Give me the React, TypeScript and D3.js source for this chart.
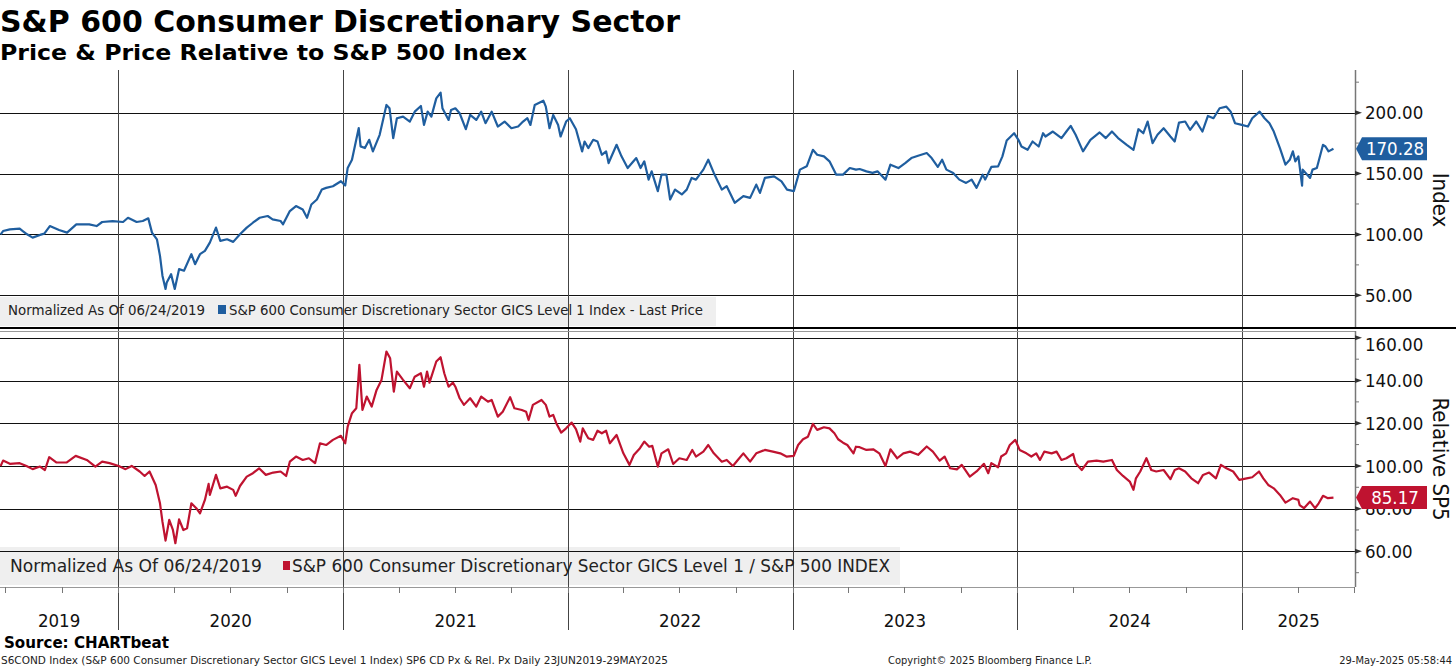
import React from "react";
import * as d3 from "d3";

type TPoint = [string, number];

// S&P 600 Consumer Discretionary, normalized to 100 on 06/24/2019
const priceSeries: TPoint[] = [
  ["2019-06-24", 100], ["2019-06-28", 102.8], ["2019-07-09", 104.2], ["2019-07-25", 104.7],
  ["2019-07-30", 102.8], ["2019-08-06", 100.1], ["2019-08-15", 97.4], ["2019-08-27", 99.6],
  ["2019-09-03", 100.7], ["2019-09-12", 106.9], ["2019-09-27", 103.6], ["2019-10-10", 101.5],
  ["2019-10-25", 108.3], ["2019-11-15", 108.3], ["2019-11-27", 106.9], ["2019-12-06", 110.2],
  ["2019-12-23", 111], ["2020-01-09", 110.2], ["2020-01-17", 113.7], ["2020-01-31", 110.2],
  ["2020-02-10", 111], ["2020-02-19", 113.2], ["2020-02-25", 101.5], ["2020-03-04", 96],
  ["2020-03-09", 82.4], ["2020-03-13", 66.1], ["2020-03-18", 55.2], ["2020-03-20", 60.6],
  ["2020-03-27", 67.4], ["2020-04-02", 55.2], ["2020-04-09", 71.5], ["2020-04-17", 70.2],
  ["2020-04-29", 83.8], ["2020-05-05", 75.6], ["2020-05-13", 83.8], ["2020-05-21", 86.5],
  ["2020-05-29", 93.3], ["2020-06-08", 105.6], ["2020-06-15", 94.7], ["2020-06-26", 96],
  ["2020-07-06", 93.9], ["2020-07-17", 100.1], ["2020-07-28", 105.6], ["2020-08-07", 109.6],
  ["2020-08-18", 113.7], ["2020-08-31", 115.1], ["2020-09-08", 112.4], ["2020-09-21", 111],
  ["2020-09-25", 108.3], ["2020-10-06", 119.2], ["2020-10-16", 123.3], ["2020-10-27", 120.5],
  ["2020-11-03", 113.7], ["2020-11-10", 124.6], ["2020-11-19", 128.7], ["2020-11-27", 136.9],
  ["2020-12-04", 138.2], ["2020-12-15", 139.6], ["2020-12-28", 143.7], ["2021-01-04", 140.1],
  ["2021-01-08", 154.6], ["2021-01-15", 161.4], ["2021-01-26", 187.3], ["2021-01-29", 172.3],
  ["2021-02-05", 170.9], ["2021-02-12", 177.7], ["2021-02-18", 168.2], ["2021-03-01", 181.8],
  ["2021-03-12", 206.3], ["2021-03-17", 203.6], ["2021-03-23", 179], ["2021-03-29", 195.4],
  ["2021-04-08", 196.7], ["2021-04-19", 192.7], ["2021-04-27", 200.8], ["2021-05-07", 205.5],
  ["2021-05-12", 189.9], ["2021-05-18", 200.8], ["2021-05-24", 196.7], ["2021-06-01", 211.7],
  ["2021-06-08", 216.4], ["2021-06-11", 203.6], ["2021-06-21", 194], ["2021-06-25", 202.2],
  ["2021-07-02", 203.6], ["2021-07-09", 199.5], ["2021-07-19", 186.4], ["2021-07-26", 198.1],
  ["2021-08-05", 194], ["2021-08-13", 200.8], ["2021-08-20", 191.3], ["2021-08-30", 200.8],
  ["2021-09-09", 188.6], ["2021-09-20", 192.7], ["2021-10-01", 187.2], ["2021-10-12", 188.6],
  ["2021-10-20", 192.7], ["2021-10-27", 195.4], ["2021-11-01", 189.9], ["2021-11-08", 206.3],
  ["2021-11-22", 209.8], ["2021-11-26", 204.9], ["2021-12-02", 187.2], ["2021-12-08", 198.1],
  ["2021-12-16", 189.9], ["2021-12-20", 180.4], ["2021-12-29", 192.7], ["2022-01-04", 195.4],
  ["2022-01-14", 186.4], ["2022-01-24", 168.2], ["2022-01-28", 176.3], ["2022-02-03", 170.9],
  ["2022-02-11", 177.7], ["2022-02-18", 176.3], ["2022-02-25", 165.4], ["2022-03-04", 168.2],
  ["2022-03-08", 158.6], ["2022-03-21", 173.6], ["2022-03-29", 164.1], ["2022-04-08", 154.5],
  ["2022-04-22", 162.7], ["2022-04-29", 154.5], ["2022-05-05", 160], ["2022-05-12", 145],
  ["2022-05-17", 151.8], ["2022-05-27", 135.5], ["2022-06-02", 149.1], ["2022-06-10", 149.1],
  ["2022-06-16", 128.7], ["2022-06-24", 136.8], ["2022-07-05", 132.8], ["2022-07-13", 136.8],
  ["2022-07-21", 146.4], ["2022-07-28", 145], ["2022-08-09", 153.2], ["2022-08-17", 161.3],
  ["2022-08-26", 150.5], ["2022-09-08", 136.8], ["2022-09-16", 139.6], ["2022-09-29", 126],
  ["2022-10-13", 131.4], ["2022-10-24", 130], ["2022-11-03", 140.9], ["2022-11-09", 134.1],
  ["2022-11-17", 146.4], ["2022-12-02", 147.7], ["2022-12-14", 143.6], ["2022-12-23", 136.8],
  ["2023-01-03", 135.5], ["2023-01-13", 153.2], ["2023-01-24", 155.9], ["2023-02-03", 169.5],
  ["2023-02-10", 165.4], ["2023-02-21", 164.1], ["2023-03-02", 160], ["2023-03-13", 149.1],
  ["2023-03-24", 149.1], ["2023-04-04", 154.5], ["2023-04-14", 153.2], ["2023-04-20", 153.7],
  ["2023-05-01", 151.8], ["2023-05-11", 150.5], ["2023-05-19", 151.8], ["2023-06-01", 145],
  ["2023-06-09", 157.3], ["2023-06-22", 154.5], ["2023-07-03", 158.6], ["2023-07-13", 162.7],
  ["2023-07-24", 164.6], ["2023-08-07", 166.8], ["2023-08-15", 162.7], ["2023-08-25", 155.4],
  ["2023-09-01", 161.3], ["2023-09-08", 153.2], ["2023-09-19", 150.5], ["2023-09-29", 145],
  ["2023-10-10", 142.3], ["2023-10-19", 145], ["2023-10-27", 138.2], ["2023-11-06", 149.1],
  ["2023-11-10", 145], ["2023-11-20", 155.4], ["2023-12-01", 155.9], ["2023-12-08", 164.1],
  ["2023-12-15", 177.1], ["2023-12-27", 183.1], ["2024-01-03", 177.7], ["2024-01-08", 172.2],
  ["2024-01-18", 169.5], ["2024-01-26", 176.3], ["2024-02-05", 172.2], ["2024-02-12", 183.1],
  ["2024-02-16", 180.4], ["2024-02-28", 184.5], ["2024-03-13", 179.1], ["2024-03-21", 184.5],
  ["2024-03-28", 189.1], ["2024-04-05", 181.8], ["2024-04-17", 168.2], ["2024-04-29", 177.7],
  ["2024-05-14", 183.7], ["2024-05-24", 179.1], ["2024-06-03", 184.5], ["2024-06-13", 179.1],
  ["2024-06-27", 173.6], ["2024-07-08", 169.5], ["2024-07-16", 186.4], ["2024-07-24", 183.1],
  ["2024-07-31", 192.7], ["2024-08-08", 175], ["2024-08-16", 181.8], ["2024-08-26", 187.2],
  ["2024-09-06", 180.4], ["2024-09-13", 176.3], ["2024-09-20", 191.8], ["2024-09-30", 192.7],
  ["2024-10-08", 185.9], ["2024-10-18", 192.7], ["2024-10-28", 184.5], ["2024-11-06", 197.3],
  ["2024-11-15", 195.4], ["2024-11-25", 203.6], ["2024-12-06", 204.9], ["2024-12-13", 200.8],
  ["2024-12-20", 191.3], ["2024-12-31", 189.9], ["2025-01-10", 188.6], ["2025-01-17", 195.4],
  ["2025-01-29", 200.8], ["2025-02-06", 195.4], ["2025-02-14", 191.3], ["2025-02-21", 184.5],
  ["2025-03-03", 170.9], ["2025-03-12", 157.3], ["2025-03-19", 161.3], ["2025-03-24", 168.2],
  ["2025-03-28", 160], ["2025-04-02", 164.1], ["2025-04-08", 140.1], ["2025-04-09", 153.2],
  ["2025-04-21", 146.4], ["2025-04-25", 153.2], ["2025-05-02", 154.5], ["2025-05-12", 173.6],
  ["2025-05-16", 172.2], ["2025-05-21", 168.2], ["2025-05-29", 170.28],
];

// same index relative to the S&P 500, normalized to 100
const relativeSeries: TPoint[] = [
  ["2019-06-24", 100], ["2019-06-28", 102.5], ["2019-07-09", 101], ["2019-07-25", 101.3],
  ["2019-08-05", 100], ["2019-08-15", 98.5], ["2019-08-27", 99.7], ["2019-09-04", 98.1],
  ["2019-09-11", 104.1], ["2019-09-23", 101.6], ["2019-10-09", 101.6], ["2019-10-24", 104.7],
  ["2019-11-11", 102.8], ["2019-11-25", 99.7], ["2019-12-06", 102], ["2019-12-18", 101.3],
  ["2020-01-02", 100], ["2020-01-13", 98.5], ["2020-01-23", 100], ["2020-02-05", 97.4],
  ["2020-02-13", 95.3], ["2020-02-21", 97.4], ["2020-03-02", 91.1], ["2020-03-09", 82.5],
  ["2020-03-13", 73.9], ["2020-03-18", 65], ["2020-03-24", 74.7], ["2020-03-30", 70],
  ["2020-04-03", 63.8], ["2020-04-09", 75], ["2020-04-16", 70], ["2020-04-22", 70.8],
  ["2020-04-29", 82.5], ["2020-05-07", 80.2], ["2020-05-13", 77.8], ["2020-05-21", 84.1],
  ["2020-05-27", 91.6], ["2020-05-29", 86.4], ["2020-06-08", 95.8], ["2020-06-15", 89.5],
  ["2020-06-26", 90.3], ["2020-07-06", 88.8], ["2020-07-10", 86], ["2020-07-17", 90.6],
  ["2020-07-28", 95], ["2020-08-07", 96.6], ["2020-08-17", 98.9], ["2020-08-28", 95.8],
  ["2020-09-09", 96.9], ["2020-09-21", 97.4], ["2020-09-30", 95.3], ["2020-10-06", 102],
  ["2020-10-16", 104.4], ["2020-10-27", 102.8], ["2020-11-06", 103.6], ["2020-11-16", 101.3],
  ["2020-11-24", 110.6], ["2020-12-04", 109.8], ["2020-12-15", 112.2], ["2020-12-28", 114.1],
  ["2021-01-04", 110.6], ["2021-01-08", 118.4], ["2021-01-15", 124.7], ["2021-01-22", 127],
  ["2021-01-27", 147.3], ["2021-02-01", 126.2], ["2021-02-08", 132.5], ["2021-02-16", 127.8],
  ["2021-02-24", 135.6], ["2021-03-04", 140.3], ["2021-03-12", 153.6], ["2021-03-18", 150.4],
  ["2021-03-24", 134.8], ["2021-03-29", 144.2], ["2021-04-08", 140.3], ["2021-04-19", 136.4],
  ["2021-04-27", 141.8], ["2021-05-07", 143.4], ["2021-05-12", 137.1], ["2021-05-17", 144.2],
  ["2021-05-21", 139], ["2021-06-01", 148.9], ["2021-06-08", 150.9], ["2021-06-14", 143.4],
  ["2021-06-21", 137.1], ["2021-06-28", 139], ["2021-07-02", 137.1], ["2021-07-09", 131.7],
  ["2021-07-16", 128.6], ["2021-07-26", 131.7], ["2021-08-05", 127.8], ["2021-08-13", 132.5],
  ["2021-08-24", 130.1], ["2021-08-30", 130.9], ["2021-09-09", 123.1], ["2021-09-17", 125.4],
  ["2021-09-29", 132.2], ["2021-10-06", 127], ["2021-10-18", 126.2], ["2021-10-25", 125.4],
  ["2021-10-29", 121.5], ["2021-11-05", 128.6], ["2021-11-19", 130.9], ["2021-11-26", 128.6],
  ["2021-12-02", 123.1], ["2021-12-08", 123.9], ["2021-12-13", 120], ["2021-12-21", 115.6],
  ["2021-12-29", 117.6], ["2022-01-07", 120.3], ["2022-01-14", 117.2], ["2022-01-21", 111.4],
  ["2022-01-25", 117.6], ["2022-02-03", 113], ["2022-02-11", 112.2], ["2022-02-18", 116.5],
  ["2022-02-25", 115.3], ["2022-03-04", 116.5], ["2022-03-10", 110.6], ["2022-03-21", 114.5],
  ["2022-04-01", 105.9], ["2022-04-11", 100.5], ["2022-04-18", 105.1], ["2022-04-28", 108.3],
  ["2022-05-05", 111.4], ["2022-05-13", 109], ["2022-05-18", 109.4], ["2022-05-27", 99.7],
  ["2022-06-02", 105.9], ["2022-06-13", 107.8], ["2022-06-21", 100.9], ["2022-07-01", 103.6],
  ["2022-07-13", 102.8], ["2022-07-22", 107.5], ["2022-07-28", 104.4], ["2022-08-09", 106.7],
  ["2022-08-17", 109.8], ["2022-08-26", 105.9], ["2022-09-08", 102], ["2022-09-16", 102.8],
  ["2022-09-26", 100], ["2022-10-04", 102.8], ["2022-10-13", 105.9], ["2022-10-24", 102],
  ["2022-11-03", 105.9], ["2022-11-17", 107.5], ["2022-11-30", 106.7], ["2022-12-12", 105.9],
  ["2022-12-22", 104.4], ["2023-01-03", 104.7], ["2023-01-10", 109.8], ["2023-01-18", 112.5],
  ["2023-01-26", 113.7], ["2023-02-03", 119.7], ["2023-02-10", 116.9], ["2023-02-21", 118.1],
  ["2023-03-02", 117.6], ["2023-03-10", 115.3], ["2023-03-16", 112.5], ["2023-03-24", 110.9],
  ["2023-03-31", 109.8], ["2023-04-10", 105.9], ["2023-04-14", 109], ["2023-04-20", 108.8],
  ["2023-05-01", 107.5], ["2023-05-12", 107.8], ["2023-05-22", 105.9], ["2023-06-01", 100],
  ["2023-06-09", 107.8], ["2023-06-20", 103.6], ["2023-06-30", 105.9], ["2023-07-11", 106.7],
  ["2023-07-24", 105.2], ["2023-08-07", 109.1], ["2023-08-17", 106.7], ["2023-08-28", 102.5],
  ["2023-09-05", 104.4], ["2023-09-14", 98.9], ["2023-09-25", 98.4], ["2023-10-03", 100.5],
  ["2023-10-16", 95], ["2023-10-27", 97.4], ["2023-11-08", 101], ["2023-11-15", 96.6],
  ["2023-11-20", 101.3], ["2023-12-01", 99.4], ["2023-12-06", 104.4], ["2023-12-14", 105.9],
  ["2023-12-20", 109.8], ["2023-12-29", 112.2], ["2024-01-05", 107.5], ["2024-01-16", 105.9],
  ["2024-01-24", 104.4], ["2024-02-01", 105.9], ["2024-02-07", 102.8], ["2024-02-14", 106.7],
  ["2024-02-26", 105.9], ["2024-03-05", 106.7], ["2024-03-13", 102.8], ["2024-03-21", 103.6],
  ["2024-04-01", 105.6], ["2024-04-05", 101.3], ["2024-04-15", 98.1], ["2024-04-25", 102],
  ["2024-05-09", 102.5], ["2024-05-20", 102], ["2024-06-03", 102.8], ["2024-06-11", 98.1],
  ["2024-06-21", 95.3], ["2024-07-02", 92.7], ["2024-07-08", 88.8], ["2024-07-12", 94.2],
  ["2024-07-19", 97.4], ["2024-07-29", 103.6], ["2024-08-06", 98.1], ["2024-08-14", 97.4],
  ["2024-08-26", 98.1], ["2024-09-06", 93.8], ["2024-09-13", 98.1], ["2024-09-20", 98.9],
  ["2024-09-30", 97.4], ["2024-10-10", 94.2], ["2024-10-21", 91.9], ["2024-10-29", 95.8],
  ["2024-11-08", 96.9], ["2024-11-19", 94.2], ["2024-11-27", 100.5], ["2024-12-06", 98.9],
  ["2024-12-17", 97.4], ["2024-12-27", 93.5], ["2025-01-08", 94.2], ["2025-01-17", 94.7],
  ["2025-01-28", 97.4], ["2025-02-04", 94.2], ["2025-02-12", 91.1], ["2025-02-21", 89.5],
  ["2025-03-03", 86.4], ["2025-03-12", 82.8], ["2025-03-24", 84.9], ["2025-04-02", 84.1],
  ["2025-04-04", 81.7], ["2025-04-11", 80.2], ["2025-04-21", 83.3], ["2025-04-29", 80.2],
  ["2025-05-05", 82.5], ["2025-05-12", 86], ["2025-05-20", 84.9], ["2025-05-29", 85.17],
];

const priceTicks = [50, 100, 150, 200];
const priceMinorTicks = [75, 125, 175, 225];
const relativeTicks = [60, 80, 100, 120, 140, 160];
const relativeMinorTicks = [50, 70, 90, 110, 130, 150];
const yearLabels = [2019, 2020, 2021, 2022, 2023, 2024, 2025];

const width = 1456;
const height = 668;
const axisX = 1355;
const topPanel = { y0: 70, y1: 327 };
const bottomPanel = { y0: 331, y1: 587 };

const blue = "#1f5e9f";
const red = "#bf1330";
const font = "'DejaVu Sans Condensed', 'DejaVu Sans', sans-serif";
const titleFont = "'DejaVu Sans', Verdana, sans-serif";

const parse = d3.timeParse("%Y-%m-%d");
type TDatum = { date: Date; value: number };
const toData = (s: TPoint[]): TDatum[] => s.map(([d, v]) => ({ date: parse(d)!, value: v }));

const x = d3
  .scaleTime()
  .domain([parse("2019-06-23")!, parse("2025-07-03")!])
  .range([0, axisX]);
const yPrice = d3.scaleLinear().domain([24, 235]).range([topPanel.y1, topPanel.y0]);
const yRelative = d3.scaleLinear().domain([43.3, 163.2]).range([bottomPanel.y1, bottomPanel.y0]);

const fmt = d3.format(".2f");

// right-hand value tag with a little arrow pointing at the axis
const ValueTag = ({ y, value, color }: { y: number; value: number; color: string }) => {
  const h = 23;
  const pts = [
    [axisX + 1, y],
    [axisX + 7, y - h / 2],
    [axisX + 72, y - h / 2],
    [axisX + 72, y + h / 2],
    [axisX + 7, y + h / 2],
  ];
  return (
    <g>
      <polygon points={pts.map((p) => p.join(",")).join(" ")} fill={color} />
      <text x={axisX + 40} y={y} dy="0.36em" textAnchor="middle" fill="#fff" fontSize={18.5} fontFamily={font}>
        {fmt(value)}
      </text>
    </g>
  );
};

const App = () => {
  const price = toData(priceSeries);
  const relative = toData(relativeSeries);

  const priceLine = d3
    .line<TDatum>()
    .x((d) => x(d.date))
    .y((d) => yPrice(d.value));
  const relativeLine = d3
    .line<TDatum>()
    .x((d) => x(d.date))
    .y((d) => yRelative(d.value));

  const [d0, d1] = x.domain();
  const yearTicks = x.ticks(d3.timeYear);
  const quarterTicks = d3.timeMonth.every(3)!.range(d0, d1);
  const lastPrice = price[price.length - 1];
  const lastRelative = relative[relative.length - 1];

  const yearCenter = (yr: number) => {
    const a = Math.max(x(new Date(yr, 0, 1)), 0);
    const b = Math.min(x(new Date(yr + 1, 0, 1)), axisX);
    return (a + b) / 2;
  };

  return (
    <div style={{ position: "absolute", left: 0, top: 0 }}>
      <svg width={width} height={height} style={{ display: "block", background: "#fff" }}>
        <defs>
          <clipPath id="clipTop">
            <rect x={0} y={topPanel.y0} width={axisX} height={topPanel.y1 - topPanel.y0} />
          </clipPath>
          <clipPath id="clipBottom">
            <rect x={0} y={bottomPanel.y0} width={axisX} height={bottomPanel.y1 - bottomPanel.y0} />
          </clipPath>
        </defs>

        {/* titles */}
        <text x={0} y={32} fontFamily={titleFont} fontWeight="bold" fontSize={30} textLength={680} lengthAdjust="spacingAndGlyphs">
          S&amp;P 600 Consumer Discretionary Sector
        </text>
        <text x={0} y={60} fontFamily={titleFont} fontWeight="bold" fontSize={22} textLength={527} lengthAdjust="spacingAndGlyphs">
          Price &amp; Price Relative to S&amp;P 500 Index
        </text>

        {/* legend boxes */}
        <rect x={0} y={297} width={716} height={29} fill="#efefef" />
        <rect x={0} y={547} width={900} height={38} fill="#efefef" />

        {/* horizontal grid */}
        {priceTicks.map((t) => (
          <line key={`gp${t}`} x1={0} x2={axisX} y1={Math.round(yPrice(t)) + 0.5} y2={Math.round(yPrice(t)) + 0.5} stroke="#111" />
        ))}
        {relativeTicks.map((t) => (
          <line key={`gr${t}`} x1={0} x2={axisX} y1={Math.round(yRelative(t)) + 0.5} y2={Math.round(yRelative(t)) + 0.5} stroke="#111" />
        ))}

        {/* year separators */}
        {yearTicks.map((d) => (
          <line key={+d} x1={Math.round(x(d)) + 0.5} x2={Math.round(x(d)) + 0.5} y1={topPanel.y0} y2={630} stroke="#444" />
        ))}

        {/* legend text */}
        <text x={8} y={315} fontFamily={font} fontSize={14.5} fill="#222" textLength={197} lengthAdjust="spacingAndGlyphs">
          Normalized As Of 06/24/2019
        </text>
        <rect x={218} y={305} width={8} height={9} fill={blue} />
        <text x={229} y={315} fontFamily={font} fontSize={14.5} fill="#222" textLength={474} lengthAdjust="spacingAndGlyphs">
          S&amp;P 600 Consumer Discretionary Sector GICS Level 1 Index - Last Price
        </text>
        <text x={10} y={572} fontFamily={font} fontSize={18} fill="#222" textLength={252} lengthAdjust="spacingAndGlyphs">
          Normalized As Of 06/24/2019
        </text>
        <rect x={283} y={561} width={7} height={9} fill={red} />
        <text x={292} y={572} fontFamily={font} fontSize={18} fill="#222" textLength={598} lengthAdjust="spacingAndGlyphs">
          S&amp;P 600 Consumer Discretionary Sector GICS Level 1 / S&amp;P 500 INDEX
        </text>

        {/* series */}
        <path d={priceLine(price) || ""} fill="none" stroke={blue} strokeWidth={2.2} strokeLinejoin="round" clipPath="url(#clipTop)" />
        <path d={relativeLine(relative) || ""} fill="none" stroke={red} strokeWidth={2.2} strokeLinejoin="round" clipPath="url(#clipBottom)" />

        {/* panel separator */}
        <line x1={0} x2={width} y1={328} y2={328} stroke="#000" strokeWidth={2} />
        <line x1={0} x2={axisX} y1={331.5} y2={331.5} stroke="#999" />

        {/* x axis */}
        <line x1={0} x2={axisX} y1={bottomPanel.y1 + 0.5} y2={bottomPanel.y1 + 0.5} stroke="#999" />
        {quarterTicks.map((d) => (
          <line key={`q${+d}`} x1={Math.round(x(d)) + 0.5} x2={Math.round(x(d)) + 0.5} y1={bottomPanel.y1} y2={bottomPanel.y1 + 6} stroke="#777" />
        ))}
        {yearLabels.map((yr) => (
          <text key={yr} x={yearCenter(yr)} y={627} textAnchor="middle" fontFamily={font} fontSize={18.5} fill="#111">
            {yr}
          </text>
        ))}

        {/* right axes */}
        <line x1={axisX + 0.5} x2={axisX + 0.5} y1={topPanel.y0} y2={topPanel.y1} stroke="#777" strokeWidth={1.5} />
        <line x1={axisX + 0.5} x2={axisX + 0.5} y1={bottomPanel.y0} y2={bottomPanel.y1} stroke="#777" strokeWidth={1.5} />
        {priceMinorTicks.map((t) => (
          <line key={`mp${t}`} x1={axisX} x2={axisX + 4} y1={yPrice(t)} y2={yPrice(t)} stroke="#777" />
        ))}
        {relativeMinorTicks.map((t) => (
          <line key={`mr${t}`} x1={axisX} x2={axisX + 4} y1={yRelative(t)} y2={yRelative(t)} stroke="#777" />
        ))}
        {priceTicks.map((t) => (
          <g key={`tp${t}`}>
            <polygon points={`${axisX},${yPrice(t) - 2.5} ${axisX + 7},${yPrice(t)} ${axisX},${yPrice(t) + 2.5}`} fill="#333" />
            <text x={axisX + 10} y={yPrice(t)} dy="0.36em" fontFamily={font} fontSize={18.5} fill="#111">
              {fmt(t)}
            </text>
          </g>
        ))}
        {relativeTicks.map((t) => (
          <g key={`tr${t}`}>
            <polygon points={`${axisX},${yRelative(t) - 2.5} ${axisX + 7},${yRelative(t)} ${axisX},${yRelative(t) + 2.5}`} fill="#333" />
            <text x={axisX + 10} y={Math.max(yRelative(t), bottomPanel.y0 + 13)} dy="0.36em" fontFamily={font} fontSize={18.5} fill="#111">
              {fmt(t)}
            </text>
          </g>
        ))}

        <ValueTag y={yPrice(lastPrice.value)} value={lastPrice.value} color={blue} />
        <ValueTag y={yRelative(lastRelative.value)} value={lastRelative.value} color={red} />

        {/* axis titles */}
        <text transform={`translate(1433, 200) rotate(90)`} textAnchor="middle" fontFamily={font} fontSize={22} fill="#111">
          Index
        </text>
        <text transform={`translate(1433, 459) rotate(90)`} textAnchor="middle" fontFamily={font} fontSize={22} fill="#111">
          Relative SP5
        </text>

        {/* footer */}
        <text x={4} y={648} fontFamily={titleFont} fontWeight="bold" fontSize={15} textLength={165} lengthAdjust="spacingAndGlyphs">
          Source: CHARTbeat
        </text>
        <text x={1} y={664} fontFamily={font} fontSize={11} fill="#222" textLength={667} lengthAdjust="spacingAndGlyphs">
          S6COND Index (S&amp;P 600 Consumer Discretionary Sector GICS Level 1 Index) SP6 CD Px &amp; Rel. Px  Daily 23JUN2019-29MAY2025
        </text>
        <text x={888} y={664} fontFamily={font} fontSize={11} fill="#222" textLength={204} lengthAdjust="spacingAndGlyphs">
          Copyright© 2025 Bloomberg Finance L.P.
        </text>
        <text x={1452} y={664} textAnchor="end" fontFamily={font} fontSize={11} fill="#222">
          29-May-2025 05:58:44
        </text>
      </svg>
    </div>
  );
};

export default App;
